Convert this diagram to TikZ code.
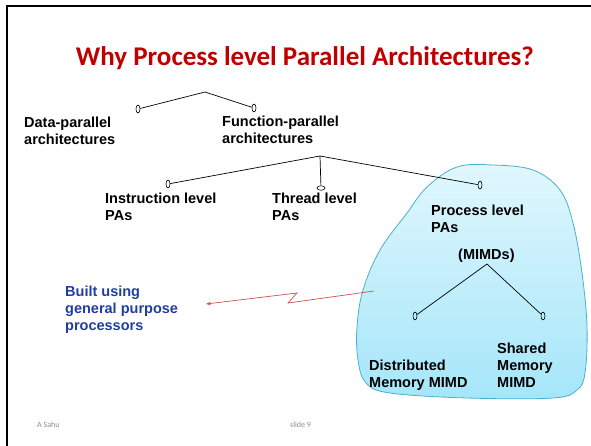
\documentclass[tikz,border=0pt]{standalone}
\usepackage{fontspec}
\setmainfont{Liberation Sans}
\newfontfamily\calibri{Carlito}
\usetikzlibrary{shapes.geometric,arrows.meta}

\definecolor{titlered}{RGB}{192,0,0}
\definecolor{noteblue}{RGB}{31,62,160}
\definecolor{blobtop}{RGB}{224,247,253}
\definecolor{blobbot}{RGB}{165,230,250}
\definecolor{blobline}{RGB}{75,175,207}
\definecolor{zigred}{RGB}{210,80,80}

\tikzset{
    leaf/.style={draw, ellipse, inner sep=0pt, minimum width=4pt, minimum height=8pt, line width=0.6pt},
    flatleaf/.style={leaf, minimum width=8pt, minimum height=4.5pt},
    lbl/.style={anchor=base west, inner sep=0pt, align=left, font=\bfseries\fontsize{14.5}{17}\selectfont},
    branch/.style={line width=0.7pt}
}

\begin{document}
\begin{tikzpicture}[x=1pt, y=-1pt]
\useasboundingbox (0,0) rectangle (591,445);
\draw[line width=2pt] (7,446) -- (7,6) -- (592,6);

\node[anchor=base, inner sep=0pt, text=titlered, font=\calibri\bfseries\fontsize{27}{31}\selectfont] (title) at (305,65) {Why Process level Parallel Architectures?};

% process level cloud
\shade[top color=blobtop, bottom color=blobbot, draw=blobline, line width=0.8pt]
    plot[smooth cycle, tension=0.6] coordinates {(457,167) (493,165) (533,170) (560,190) (573,223) (582,273) (587,327) (585,373) (577,390) (553,398) (467,398) (390,393) (366,383) (358,360) (357,327) (363,290) (380,250) (407,213) (427,187)};

% tree (labels placed at the baseline of their last line)
\coordinate (root) at (205,92);
\node[leaf] (dp) at (138,109) {};
\node[leaf] (fp) at (254,108) {};
\draw[branch] (dp) -- (root) -- (fp);
\node[lbl] (dptext) at (24,144) {Data-parallel\\architectures};
\node[lbl] (fptext) at (222,143) {Function-parallel\\architectures};

\coordinate (fpjoin) at (320,156);
\node[leaf] (ilp) at (168,184) {};
\node[flatleaf] (tlp) at (321,188) {};
\node[leaf] (plp) at (480,185) {};
\draw[branch] (ilp) -- (fpjoin) -- (plp);
\draw[branch] (fpjoin) -- (tlp);
\node[lbl] (ilptext) at (105,220) {Instruction level\\PAs};
\node[lbl] (tlptext) at (272,220) {Thread level\\PAs};
\node[lbl] (plptext) at (431,232) {Process level\\PAs};

\node[lbl] (mimd) at (458,259) {(MIMDs)};
\coordinate (mimdjoin) at (487,264);
\node[leaf] (dist) at (415,316) {};
\node[leaf] (shrd) at (543,316) {};
\draw[branch] (dist) -- (mimdjoin) -- (shrd);
\node[lbl] (disttext) at (369,387) {Distributed\\Memory MIMD};
\node[lbl] (shrdtext) at (497,387) {Shared\\Memory\\MIMD};

% note with zigzag arrow
\node[lbl, text=noteblue] (note) at (65,330) {Built using\\general purpose\\processors};
\coordinate (zstart) at (374,291);
\coordinate (zkink1) at (288,303);
\coordinate (zkink2) at (297,293);
\coordinate (zend) at (206,304);
\draw[zigred, line width=0.7pt, -{Stealth[length=5pt, width=3.5pt]}] (zstart) -- (zkink1) -- (zkink2) -- (zend);

\node[anchor=base west, inner sep=0pt, text=black!45, font=\calibri\fontsize{8}{9}\selectfont] (author) at (37,427) {A Sahu};
\node[anchor=base west, inner sep=0pt, text=black!45, font=\calibri\fontsize{8}{9}\selectfont] (slideno) at (290,427) {slide 9};
\end{tikzpicture}
\end{document}
